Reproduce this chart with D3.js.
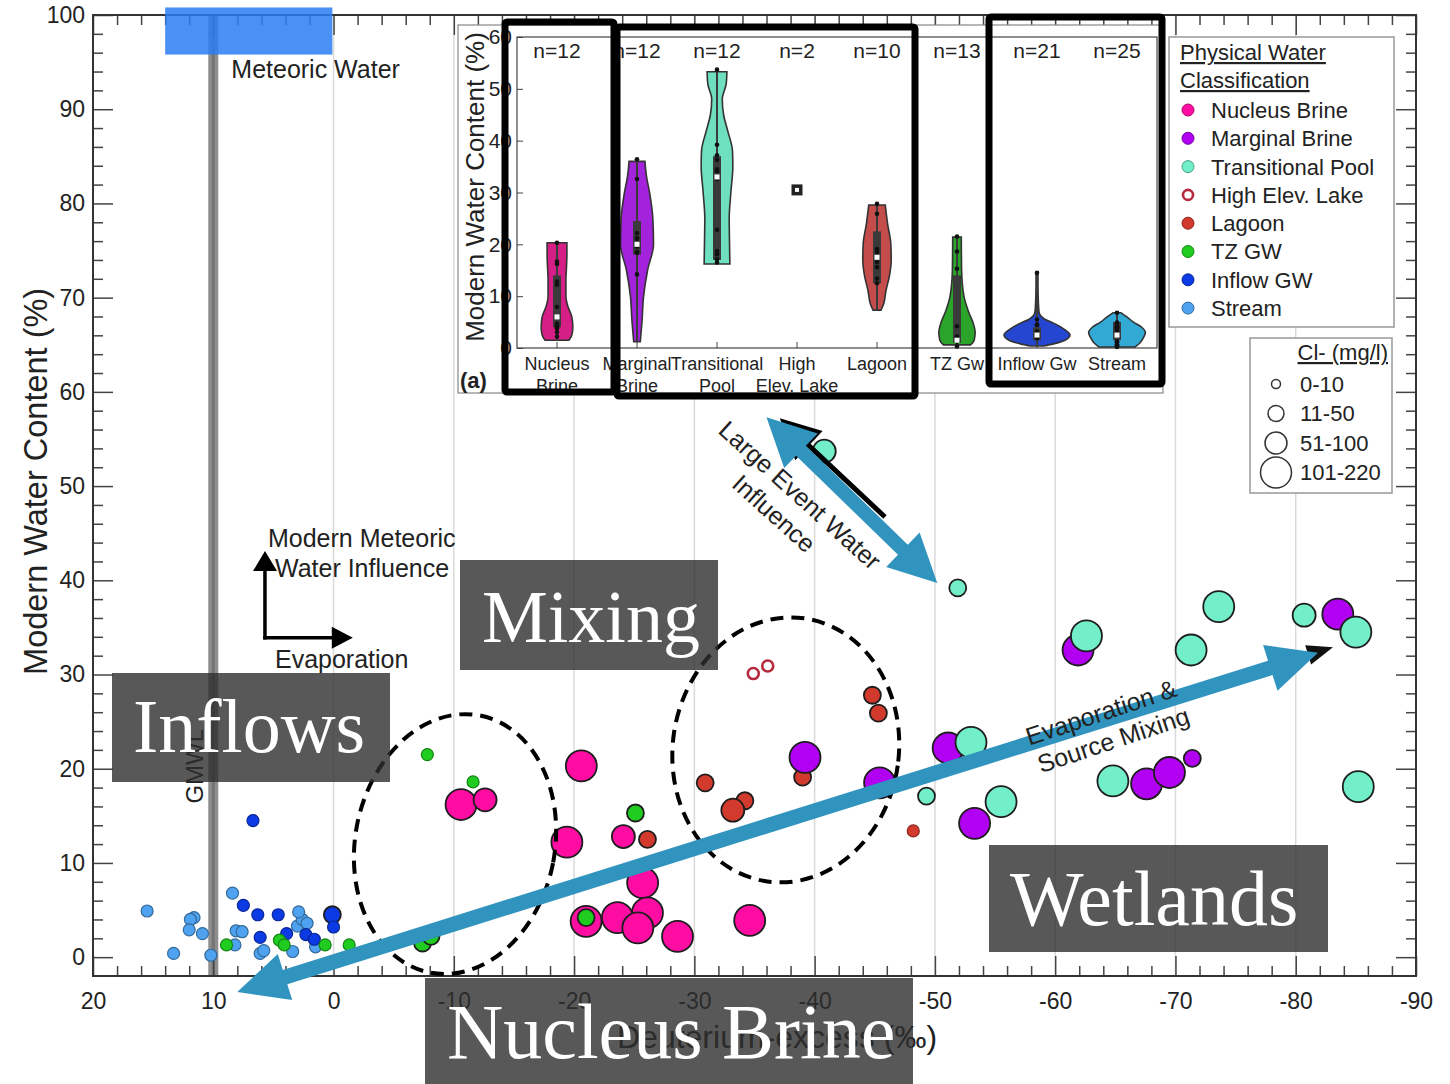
<!DOCTYPE html>
<html>
<head>
<meta charset="utf-8">
<script src="https://cdn.jsdelivr.net/npm/d3@7"></script>
<style>
  body { margin: 0; background: #fff; }
  svg { display: block; }
  text { font-family: "Liberation Sans", Arial, sans-serif; fill: #222; }
  .serif { font-family: "Liberation Serif", "DejaVu Serif", serif; fill: #fff; }
</style>
</head>
<body>
<svg id="chart" width="1450" height="1084"></svg>
<script>
// ---------------- data ----------------
const classNames  = ["Nucleus Brine", "Marginal Brine", "Transitional Pool", "High Elev. Lake", "Lagoon", "TZ GW", "Inflow GW", "Stream"];
const classColors = ["#ff0ca2", "#b200f2", "#72efc8", "#b52a3c", "#d33a2e", "#1fcc1f", "#0c3be6", "#4ea2ef"];
const clLabels    = ["0-10", "11-50", "51-100", "101-220"];

// [deuterium-excess (‰), modern water content (%), Cl- class index]
const nucleusBrine = [
  [-10.6, 16.2, 3], [-12.6, 16.7, 2], [-20.6, 20.3, 3], [-19.4, 12.2, 3], [-24.1, 12.8, 2], [-25.7, 7.9, 3],
  [-26.1, 4.7, 3], [-23.6, 4.2, 3], [-21.0, 3.8, 3], [-25.3, 3.1, 3], [-28.6, 2.2, 3], [-34.6, 3.9, 3]
];
const marginalBrine = [
  [-39.2, 21.2, 3], [-45.4, 18.5, 3], [-51.1, 22.2, 3], [-53.3, 14.2, 3], [-61.9, 32.6, 3],
  [-67.6, 18.4, 3], [-69.5, 19.6, 3], [-71.4, 21.1, 1], [-83.5, 36.4, 3]
];
const transitionalPool = [
  [-40.8, 53.7, 2], [-51.9, 39.2, 1], [-53.0, 22.8, 3], [-49.3, 17.1, 1], [-55.5, 16.5, 3], [-62.6, 34.1, 3],
  [-64.8, 18.7, 3], [-71.3, 32.6, 3], [-73.6, 37.2, 3], [-80.7, 36.3, 2], [-85.0, 34.5, 3], [-85.2, 18.1, 3]
];
const highElevLake = [[-34.9, 30.1, 0], [-36.1, 30.9, 0]];
const lagoon = [
  [-26.1, 12.5, 1], [-30.9, 18.5, 1], [-34.2, 16.6, 1], [-33.2, 15.6, 2], [-39.0, 19.1, 1],
  [-44.8, 27.8, 1], [-45.3, 25.9, 1], [-48.2, 13.4, 0]
];
const tzGW = [
  [8.9, 1.3, 0], [4.5, 1.8, 0], [4.1, 1.3, 0], [0.7, 1.3, 0], [-1.3, 1.3, 0], [-2.1, 0.3, 0],
  [-7.4, 1.5, 1], [-8.1, 2.2, 1], [-7.8, 21.5, 0], [-11.6, 18.6, 0], [-25.1, 15.3, 1], [-21.0, 4.2, 1]
];
const inflowGW = [
  [6.7, 14.5, 0], [7.5, 5.5, 0], [6.3, 4.5, 0], [4.6, 4.5, 0], [0.1, 4.5, 1], [0.0, 3.2, 0],
  [6.1, 2.1, 0], [3.9, 2.5, 0], [2.3, 2.4, 0], [1.6, 1.9, 0]
];
const stream = [
  [15.5, 4.9, 0], [11.6, 4.2, 0], [11.9, 4.0, 0], [12.0, 2.9, 0], [10.9, 2.5, 0], [13.3, 0.4, 0],
  [10.2, 0.2, 0], [8.4, 6.8, 0], [8.1, 2.8, 0], [7.6, 2.7, 0], [8.2, 1.3, 0], [6.1, 0.4, 0],
  [5.8, 0.7, 0], [3.0, 3.3, 0], [2.6, 4.0, 0], [2.9, 4.8, 0], [3.4, 0.6, 0], [1.5, 1.1, 0], [2.2, 3.6, 0]
];
const groups = [nucleusBrine, marginalBrine, transitionalPool, highElevLake, lagoon, tzGW, inflowGW, stream];
const drawOrder = [7, 6, 4, 3, 0, 1, 2, 5];

const xTicksMajor = [20, 10, 0, -10, -20, -30, -40, -50, -60, -70, -80, -90];
const yTicksMajor = [0, 10, 20, 30, 40, 50, 60, 70, 80, 90, 100];

// violin inset: categories, counts, density profiles [value, relative width], box stats [min,q1,med,q3,max]
const violinLabels = [["Nucleus", "Brine"], ["Marginal", "Brine"], ["Transitional", "Pool"], ["High", "Elev. Lake"], ["Lagoon"], ["TZ Gw"], ["Inflow Gw"], ["Stream"]];
const violinCounts = [12, 12, 12, 2, 10, 13, 21, 25];
const violinColors = ["#d61f86", "#a323dd", "#6fe0bf", "#b52a3c", "#c44d4c", "#2aa52a", "#2446d0", "#33aad6"];
const violinDensity = [
  [[1.5, .36], [2.5, .45], [4, .48], [6, .45], [8, .33], [10, .27], [13, .27], [16, .29], [18, .3], [20.3, .3]],
  [[1.2, .1], [5, .15], [10, .2], [15, .32], [20, .5], [25, .48], [30, .38], [33, .29], [36, .24]],
  [[16.2, .39], [20, .38], [25, .37], [30, .42], [35, .48], [38, .47], [42, .32], [45, .2], [48, .16], [51, .28], [53.3, .3]],
  null,
  [[7.3, .12], [8.5, .2], [11, .27], [14, .38], [17, .43], [20, .42], [24, .32], [27.6, .25]],
  [[0.6, .41], [1.5, .52], [3, .55], [5, .48], [7, .35], [10, .21], [15, .14], [21.4, .13]],
  [[0.4, .2], [0.8, .5], [1.5, .85], [2.5, 1.0], [3.5, .85], [4.8, .5], [5.5, .25], [6.3, .1], [7, .06], [9, .04], [12, .03], [14.4, .03]],
  [[0.2, .55], [1, .7], [2, .8], [3, .86], [4, .75], [5, .5], [6, .3], [6.8, .12]]
];
const violinBox = [
  [1.5, 4, 6, 14, 20.3], [1.2, 18, 20, 24.5, 36], [16.2, 17, 33, 37, 53.3], [30.1, 30.1, 30.5, 30.9, 30.9],
  [7.3, 12.5, 17.5, 22.5, 27.6], [0.6, 1, 1.5, 14, 21.4], [0.4, 1.5, 2.5, 4, 14.4], [0.2, 1.5, 2.5, 5, 6.8]
];
const insetYTicks = [0, 10, 20, 30, 40, 50, 60];

// ---------------- setup ----------------
const svg = d3.select("#chart");
const x = d3.scaleLinear().domain([20, -90]).range([93, 1416]);
const y = d3.scaleLinear().domain([-2, 100]).range([976, 15]);
const r = d3.scaleOrdinal().domain([0, 1, 2, 3]).range([6, 8.5, 11.5, 15.5]);
const P = (dx, dy) => [x(dx), y(dy)];

function arrowPath(p1, p2, w, hl, hw, both) {
  const dx = p2[0] - p1[0], dy = p2[1] - p1[1], L = Math.hypot(dx, dy);
  const ux = dx / L, uy = dy / L, nx = -uy, ny = ux;
  const Q = (p, a, b) => [p[0] + ux * a + nx * b, p[1] + uy * a + ny * b];
  const pts = [];
  if (both) pts.push(p1, Q(p1, hl, hw), Q(p1, hl, w / 2));
  else pts.push(Q(p1, -w / 2, w / 2));
  pts.push(Q(p2, -hl, w / 2), Q(p2, -hl, hw), p2, Q(p2, -hl, -hw), Q(p2, -hl, -w / 2));
  if (both) pts.push(Q(p1, hl, -w / 2), Q(p1, hl, -hw));
  else pts.push(Q(p1, -w / 2, -w / 2));
  return "M" + pts.map(p => p[0].toFixed(1) + "," + p[1].toFixed(1)).join("L") + "Z";
}

// ---------------- main plot ----------------
const gGrid = svg.append("g");
gGrid.selectAll("line").data(xTicksMajor.filter(v => v <= 0 && v > -90)).join("line")
  .attr("x1", d => x(d)).attr("x2", d => x(d)).attr("y1", y(100)).attr("y2", y(-2))
  .attr("stroke", "#dadada").attr("stroke-width", 1.5);

// GMWL
svg.append("rect").attr("x", x(10) - 5).attr("width", 10).attr("y", y(100)).attr("height", y(-2) - y(100)).attr("fill", "#8e8e8e");
svg.append("line").attr("x1", x(10)).attr("x2", x(10)).attr("y1", y(100)).attr("y2", y(-2)).attr("stroke", "#747474").attr("stroke-width", 3);
svg.append("text").attr("transform", `translate(${x(10) - 10},${y(16.3)}) rotate(-90)`)
  .attr("font-size", 24).attr("fill", "#333").text("GMWL");

// axes
const fmt = d => String(d);
const minorX = d3.range(20, -91, -2).filter(v => v % 10 !== 0);
const minorY = d3.range(0, 101, 2).filter(v => v % 10 !== 0);
function styleAxis(g) {
  g.select(".domain").remove();
  g.selectAll(".tick line").attr("stroke", "#444").attr("stroke-width", 1.5);
  g.selectAll(".tick text").attr("font-size", 23).attr("fill", "#222");
}
svg.append("g").attr("transform", `translate(0,${y(-2)})`)
  .call(d3.axisBottom(x).tickValues(xTicksMajor).tickSizeInner(-20).tickSizeOuter(0).tickPadding(17).tickFormat(fmt)).call(styleAxis);
svg.append("g").attr("transform", `translate(0,${y(-2)})`)
  .call(d3.axisBottom(x).tickValues(minorX).tickSizeInner(-10).tickSizeOuter(0).tickFormat("")).call(styleAxis);
svg.append("g").attr("transform", `translate(0,${y(100)})`)
  .call(d3.axisTop(x).tickValues(xTicksMajor).tickSizeInner(-20).tickSizeOuter(0).tickFormat("")).call(styleAxis);
svg.append("g").attr("transform", `translate(0,${y(100)})`)
  .call(d3.axisTop(x).tickValues(minorX).tickSizeInner(-10).tickSizeOuter(0).tickFormat("")).call(styleAxis);
svg.append("g").attr("transform", `translate(${x(20)},0)`)
  .call(d3.axisLeft(y).tickValues(yTicksMajor).tickSizeInner(-20).tickSizeOuter(0).tickPadding(8).tickFormat(fmt)).call(styleAxis);
svg.append("g").attr("transform", `translate(${x(20)},0)`)
  .call(d3.axisLeft(y).tickValues(minorY).tickSizeInner(-10).tickSizeOuter(0).tickFormat("")).call(styleAxis);
svg.append("g").attr("transform", `translate(${x(-90)},0)`)
  .call(d3.axisRight(y).tickValues(yTicksMajor).tickSizeInner(-20).tickSizeOuter(0).tickFormat("")).call(styleAxis);
svg.append("g").attr("transform", `translate(${x(-90)},0)`)
  .call(d3.axisRight(y).tickValues(minorY).tickSizeInner(-10).tickSizeOuter(0).tickFormat("")).call(styleAxis);
svg.append("rect").attr("x", x(20)).attr("y", y(100)).attr("width", x(-90) - x(20)).attr("height", y(-2) - y(100))
  .attr("fill", "none").attr("stroke", "#333").attr("stroke-width", 2);

// axis titles
svg.append("text").attr("transform", `translate(47,${y(50.5)}) rotate(-90)`).attr("text-anchor", "middle")
  .attr("font-size", 32.5).text("Modern Water Content (%)");
svg.append("text").attr("x", 777).attr("y", 1048).attr("text-anchor", "middle")
  .attr("font-size", 32).text("Deuterium-excess (‰)");

// meteoric water field
svg.append("rect").attr("x", x(14)).attr("y", y(100.8)).attr("width", x(0.1) - x(14)).attr("height", y(95.8) - y(100.8))
  .attr("fill", "rgb(43,126,243)").attr("opacity", 0.85);
svg.append("text").attr("x", x(8.5)).attr("y", y(93.3)).attr("font-size", 25).text("Meteoric Water");

// scatter points
const gPts = svg.append("g");
drawOrder.forEach(ci => {
  const col = classColors[ci];
  const hollow = ci === 3;
  gPts.append("g").selectAll("circle").data(groups[ci]).join("circle")
    .attr("cx", d => x(d[0])).attr("cy", d => y(d[1]))
    .attr("r", d => hollow ? 5.5 : r(d[2]))
    .attr("fill", hollow ? "#fff" : col)
    .attr("stroke", d => hollow ? col : (d[2] === 0 ? d3.color(col).darker(1.2) : "#1e1e1e"))
    .attr("stroke-width", d => hollow ? 2.6 : (d[2] === 0 ? 1.2 : 1.8));
});

// ---------------- inset (violins) ----------------
const inset = svg.append("g");
inset.append("clipPath").attr("id", "insetClip").append("rect").attr("x", 458).attr("y", 25).attr("width", 705).attr("height", 368);
inset.append("rect").attr("x", 458).attr("y", 25).attr("width", 705).attr("height", 368)
  .attr("fill", "#fff").attr("stroke", "#888").attr("stroke-width", 1.2);
const ins = inset.append("g").attr("clip-path", "url(#insetClip)");
const xi = d3.scalePoint().domain(d3.range(8)).range([557, 1117]);
const yi = d3.scaleLinear().domain([0, 60]).range([348, 37]);
const wi = d3.scaleLinear().domain([0, 1]).range([0, 33]);

ins.append("rect").attr("x", 517).attr("y", yi(60)).attr("width", 1157 - 517).attr("height", yi(0) - yi(60))
  .attr("fill", "none").attr("stroke", "#444").attr("stroke-width", 1.2);
ins.append("g").attr("transform", "translate(517,0)")
  .call(d3.axisLeft(yi).tickValues(insetYTicks).tickSizeInner(-6).tickSizeOuter(0).tickPadding(5).tickFormat(fmt))
  .call(g => { g.select(".domain").remove(); g.selectAll(".tick line").attr("stroke", "#444");
               g.selectAll(".tick text").attr("font-size", 21).attr("fill", "#222"); });
ins.append("g").selectAll("line").data(d3.range(8)).join("line")
  .attr("x1", d => xi(d)).attr("x2", d => xi(d)).attr("y1", yi(0)).attr("y2", yi(0) - 6).attr("stroke", "#444");

ins.append("text").attr("transform", `translate(484,187) rotate(-90)`).attr("text-anchor", "middle")
  .attr("font-size", 26).text("Modern Water Content (%)");
ins.append("text").attr("x", 460).attr("y", 388).attr("font-size", 22).attr("font-weight", "bold").text("(a)");

d3.range(8).forEach(i => {
  const cx = xi(i);
  const dens = violinDensity[i];
  const b = violinBox[i];
  if (dens) {
    const area = d3.area().curve(d3.curveMonotoneY)
      .y(d => yi(d[0])).x0(d => cx - wi(d[1])).x1(d => cx + wi(d[1]));
    ins.append("path").attr("d", area(dens)).attr("fill", violinColors[i])
      .attr("stroke", "#333").attr("stroke-width", 1.6);
    ins.append("line").attr("x1", cx).attr("x2", cx).attr("y1", yi(b[0])).attr("y2", yi(b[4]))
      .attr("stroke", "#3a3a3a").attr("stroke-width", 2);
    ins.append("rect").attr("x", cx - 4).attr("width", 8).attr("y", yi(b[3])).attr("height", yi(b[1]) - yi(b[3]))
      .attr("fill", "#3a3a3a");
    ins.append("g").selectAll("circle").data(groups[i]).join("circle")
      .attr("cx", cx).attr("cy", d => yi(d[1])).attr("r", 2.3).attr("fill", "#111");
    ins.append("rect").attr("x", cx - 2.5).attr("y", yi(b[2]) - 2.5).attr("width", 5).attr("height", 5).attr("fill", "#fff");
  } else {
    ins.append("rect").attr("x", cx - 5.5).attr("y", yi(b[2]) - 5.5).attr("width", 11).attr("height", 11).attr("fill", "#222");
    ins.append("rect").attr("x", cx - 2).attr("y", yi(b[2]) - 2).attr("width", 4).attr("height", 4).attr("fill", "#fff");
  }
  ins.append("text").attr("x", cx).attr("y", 58).attr("text-anchor", "middle").attr("font-size", 21).text("n=" + violinCounts[i]);
  violinLabels[i].forEach((t, k) => {
    ins.append("text").attr("x", cx).attr("y", 370 + k * 22).attr("text-anchor", "middle").attr("font-size", 18).text(t);
  });
});

// grouping frames over the inset
const frames = [[505, 22, 109, 370], [617, 27, 298, 369], [989, 17, 173, 367]];
svg.append("g").selectAll("rect").data(frames).join("rect")
  .attr("x", d => d[0]).attr("y", d => d[1]).attr("width", d => d[2]).attr("height", d => d[3])
  .attr("fill", "none").attr("stroke", "#000").attr("stroke-width", 7).attr("rx", 2);

// ---------------- legends ----------------
const leg = svg.append("g");
leg.append("rect").attr("x", 1169).attr("y", 37).attr("width", 225).attr("height", 290)
  .attr("fill", "#fff").attr("stroke", "#999").attr("stroke-width", 1.5);
["Physical Water ", "Classification"].forEach((t, k) => {
  leg.append("text").attr("x", 1180).attr("y", 60 + k * 28).attr("font-size", 22)
    .attr("text-decoration", "underline").text(t);
});
classNames.forEach((name, i) => {
  const yy = 110 + i * 28.3;
  const hollow = i === 3;
  leg.append("circle").attr("cx", 1188).attr("cy", yy).attr("r", hollow ? 5 : 6)
    .attr("fill", hollow ? "#fff" : classColors[i])
    .attr("stroke", hollow ? classColors[i] : d3.color(classColors[i]).darker(1.2))
    .attr("stroke-width", hollow ? 2.6 : 1);
  leg.append("text").attr("x", 1211).attr("y", yy).attr("dy", "0.36em").attr("font-size", 22).text(name);
});

leg.append("rect").attr("x", 1250).attr("y", 338).attr("width", 142).attr("height", 155)
  .attr("fill", "#fff").attr("stroke", "#999").attr("stroke-width", 1.5);
leg.append("text").attr("x", 1388).attr("y", 360).attr("text-anchor", "end").attr("font-size", 22)
  .attr("text-decoration", "underline").text("Cl- (mg/l)");
const legR = [4.5, 8, 11, 15.5];
clLabels.forEach((t, i) => {
  const yy = 384 + i * 29.5;
  leg.append("circle").attr("cx", 1276).attr("cy", yy).attr("r", legR[i]).attr("fill", "#fff")
    .attr("stroke", "#333").attr("stroke-width", 1.5);
  leg.append("text").attr("x", 1300).attr("y", yy).attr("dy", "0.36em").attr("font-size", 22).text(t);
});

// ---------------- annotations ----------------
const ann = svg.append("g");

// direction key: modern meteoric water influence (up) and evaporation (right)
const corner = P(5.7, 33.9);
ann.append("path").attr("d", arrowPath(corner, P(5.7, 43.1), 3.5, 20, 12, false)).attr("fill", "#000");
ann.append("path").attr("d", arrowPath(corner, P(-1.6, 33.9), 3.5, 21, 11, false)).attr("fill", "#000");
ann.append("text").attr("x", x(5.45)).attr("y", y(43.5)).attr("font-size", 25).text("Modern Meteoric");
ann.append("text").attr("x", x(4.87)).attr("y", y(40.3)).attr("font-size", 25).text("Water Influence");
ann.append("text").attr("x", x(4.87)).attr("y", y(30.7)).attr("font-size", 25).text("Evaporation");

// dashed groupings
const ellipses = [
  { c: [-10.1, 12.0], rx: 8.3, ry: 13.9, rot: 11 },
  { c: [-37.6, 22.0], rx: 9.4, ry: 14.1, rot: 8 }
];
ann.selectAll("ellipse").data(ellipses).join("ellipse")
  .attr("transform", d => `translate(${x(d.c[0])},${y(d.c[1])}) rotate(${d.rot})`)
  .attr("rx", d => x(0) - x(d.rx)).attr("ry", d => y(0) - y(d.ry))
  .attr("fill", "none").attr("stroke", "#000").attr("stroke-width", 4).attr("stroke-dasharray", "13 8");

// black arrows
ann.append("path").attr("d", arrowPath(P(-45.7, 46.9), P(-37.1, 57.2), 5, 40, 20, false)).attr("fill", "#000");
{
  const tip = P(-83.1, 32.9);
  const a = -17 * Math.PI / 180;
  ann.append("path").attr("d", arrowPath([tip[0] - 40 * Math.cos(a), tip[1] - 40 * Math.sin(a)], tip, 3, 26, 10, false)).attr("fill", "#111");
}

// blue trend arrows
const blue = "#3194be";
ann.append("path").attr("d", arrowPath(P(8.0, -3.7), P(-81.85, 32.3), 15, 50, 24, true)).attr("fill", blue);
ann.append("path").attr("d", arrowPath(P(-36.0, 57.3), P(-50.2, 39.7), 14, 48, 24, true)).attr("fill", blue);

// rotated labels
{
  const c = P(-38.8, 49.05);
  const t = ann.append("text").attr("transform", `translate(${c[0]},${c[1]}) rotate(42)`)
    .attr("text-anchor", "middle").attr("font-size", 25);
  t.append("tspan").attr("x", 0).attr("y", 9).text("Large Event Water");
  t.append("tspan").attr("x", -7).attr("y", 40).text("Influence");
}
{
  const c = P(-63.8, 26.0);
  const t = ann.append("text").attr("transform", `translate(${c[0]},${c[1]}) rotate(-18.5)`)
    .attr("text-anchor", "middle").attr("font-size", 25);
  t.append("tspan").attr("x", 0).attr("y", 9).text("Evaporation &");
  t.append("tspan").attr("x", 3).attr("y", 39).text("Source Mixing");
}

// ---------------- zone labels ----------------
const zones = [
  { text: "Inflows",       box: [112, 673, 278, 109], tx: 133,  ty: 752,  fs: 76 },
  { text: "Mixing",        box: [460, 560, 258, 110], tx: 482,  ty: 642,  fs: 74 },
  { text: "Wetlands",      box: [989, 845, 339, 107], tx: 1010, ty: 925,  fs: 78 },
  { text: "Nucleus Brine", box: [425, 978, 488, 106], tx: 447,  ty: 1058, fs: 78 }
];
const zg = svg.append("g");
zones.forEach(z => {
  zg.append("rect").attr("x", z.box[0]).attr("y", z.box[1]).attr("width", z.box[2]).attr("height", z.box[3])
    .attr("fill", "#2e2e2e").attr("opacity", 0.8);
  zg.append("text").attr("class", "serif").attr("x", z.tx).attr("y", z.ty).attr("font-size", z.fs).text(z.text);
});
</script>
</body>
</html>
